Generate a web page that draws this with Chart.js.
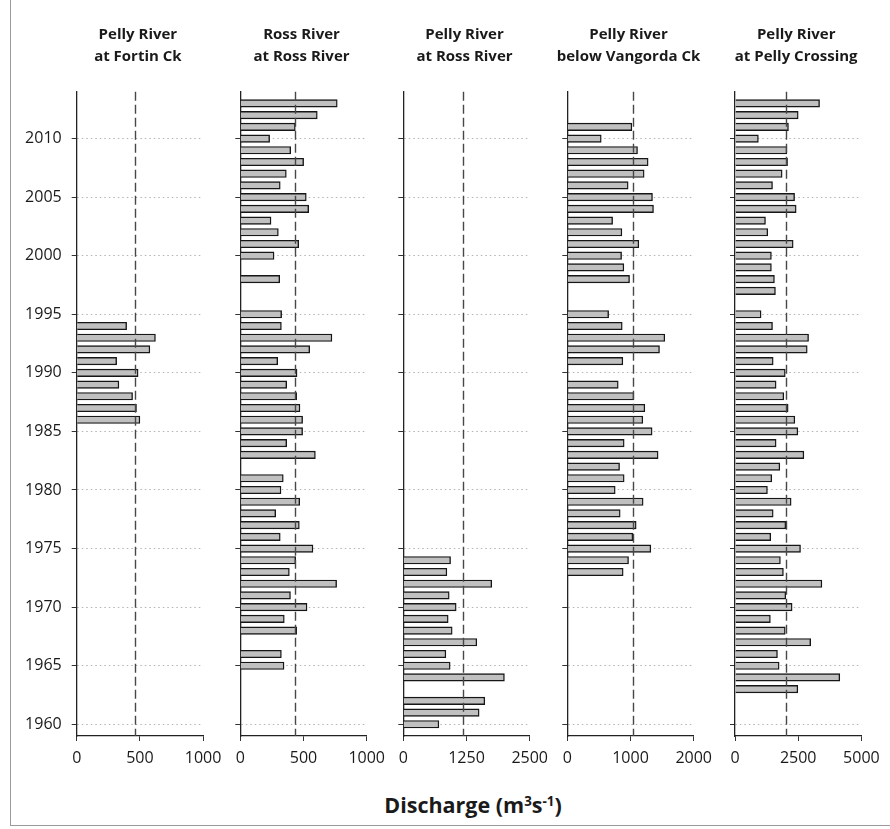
<!DOCTYPE html>
<html>
<head>
<meta charset="utf-8">
<script src="https://cdn.jsdelivr.net/npm/chart.js@4.4.1/dist/chart.umd.min.js"></script>
<style>
  html, body { margin: 0; padding: 0; background: #fff; }
  #fig { position: relative; width: 890px; height: 829px; overflow: hidden;
         font-family: "Open Sans", "Noto Sans", sans-serif; color: #1a1a1a; }
  #fig canvas { position: absolute; left: 0; top: 0; }
  .frame { position: absolute; left: 10px; top: -2px; width: 900px; height: 827px;
           border-left: 1px solid #9a9a9a; border-bottom: 1px solid #9a9a9a; }
  .ttl { position: absolute; top: 22px; width: 200px; text-align: center;
         font-weight: 700; font-size: 15px; line-height: 22px; white-space: nowrap; }
  #xtitle { position: absolute; left: 273px; width: 400px; top: 791px; text-align: center;
            font-weight: 700; font-size: 21.5px; line-height: 28px; }
  #xtitle sup { font-size: 62%; vertical-align: 0; position: relative; top: -0.55em; }
</style>
</head>
<body>
<div id="fig">
  <div class="frame"></div>
  <div id="xtitle">Discharge (m<sup>3</sup>s<sup>-1</sup>)</div>
</div>
<script>
// Water years shown on the vertical axis
const years = [
  1960, 1961, 1962, 1963, 1964, 1965, 1966, 1967, 1968, 1969,
  1970, 1971, 1972, 1973, 1974, 1975, 1976, 1977, 1978, 1979,
  1980, 1981, 1982, 1983, 1984, 1985, 1986, 1987, 1988, 1989,
  1990, 1991, 1992, 1993, 1994, 1995, 1996, 1997, 1998, 1999,
  2000, 2001, 2002, 2003, 2004, 2005, 2006, 2007, 2008, 2009,
  2010, 2011, 2012, 2013
];
const yearTicks = [1960, 1965, 1970, 1975, 1980, 1985, 1990, 1995, 2000, 2005, 2010];

// Annual discharge (m3/s) per station, 1960 -> 2013, null = no record
const pellyFortin = [
  null, null, null, null, null, null, null, null, null, null,
  null, null, null, null, null, null, null, null, null, null,
  null, null, null, null, null, null, 500, 473, 442, 334,
  486, 316, 579, 623, 395, null, null, null, null, null,
  null, null, null, null, null, null, null, null, null, null,
  null, null, null, null
];
const rossRoss = [
  null, null, null, null, null, 346, 325, null, 446, 348,
  528, 397, 762, 388, 438, 575, 316, 467, 280, 470,
  322, 340, null, 594, 367, 493, 493, 472, 446, 367,
  449, 296, 549, 725, 325, 327, null, null, 312, null,
  267, 462, 301, 243, 541, 522, 316, 364, 501, 399,
  232, 435, 609, 767
];
const pellyRoss = [
  704, 1500, 1612, null, 2000, 927, 842, 1454, 967, 888,
  1046, 908, 1750, 862, 935, null, null, null, null, null,
  null, null, null, null, null, null, null, null, null, null,
  null, null, null, null, null, null, null, null, null, null,
  null, null, null, null, null, null, null, null, null, null,
  null, null, null, null
];
const pellyVangorda = [
  null, null, null, null, null, null, null, null, null, null,
  null, null, null, 884, 969, 1322, 1037, 1090, 837, 1200,
  758, 900, 827, 1437, 900, 1342, 1195, 1227, 1053, 806,
  null, 879, 1459, 1543, 869, 654, null, null, 985, 895,
  859, 1132, 864, 717, 1364, 1348, 963, 1216, 1279, 1111,
  537, 1022, null, null
];
const pellyCrossing = [
  null, null, null, 2486, 4145, 1746, 1680, 2994, 1988, 1399,
  2260, 2009, 3438, 1915, 1796, 2592, 1415, 2009, 1511, 2221,
  1283, 1455, 1773, 2725, 1627, 2486, 2367, 2103, 1931, 1627,
  1988, 1511, 2857, 2910, 1484, 1032, null, 1600, 1560, 1440,
  1440, 2301, 1297, 1206, 2420, 2357, 1484, 1865, 2079, 2052,
  925, 2115, 2500, 3345
];

// Station names and x-axis tick labels
const stationNames = [
  ["Pelly River", "at Fortin Ck"],
  ["Ross River", "at Ross River"],
  ["Pelly River", "at Ross River"],
  ["Pelly River", "below Vangorda Ck"],
  ["Pelly River", "at Pelly Crossing"]
];
const xTicks = [
  [0, 500, 1000],
  [0, 500, 1000],
  [0, 1250, 2500],
  [0, 1000, 2000],
  [0, 2500, 5000]
];
const series = [pellyFortin, rossRoss, pellyRoss, pellyVangorda, pellyCrossing];

// Panel layout (pixels)
const W = 890, H = 829;
const panelLeft = [76.7, 240.3, 403.3, 567.3, 735];
const panelWidth = 126.4;
const plotTop = 91.7, plotBottom = 736;
const yAxisW = 60, xAxisH = 40;

const fig = document.getElementById('fig');
const font = { family: '"Open Sans", "Noto Sans", sans-serif', size: 16 };
const plain = v => String(v);

// Dashed vertical line at the period-of-record mean
function meanLine(mean) {
  return {
    id: 'meanLine',
    afterDatasetsDraw(chart) {
      const { ctx, chartArea, scales } = chart;
      const px = Math.round(scales.x.getPixelForValue(mean)) + 0.5;
      ctx.save();
      ctx.strokeStyle = '#474747';
      ctx.lineWidth = 1.4;
      ctx.setLineDash([9, 4]);
      ctx.beginPath();
      ctx.moveTo(px, chartArea.top);
      ctx.lineTo(px, chartArea.bottom);
      ctx.stroke();
      ctx.restore();
    }
  };
}

series.forEach((flow, i) => {
  const canvas = document.createElement('canvas');
  canvas.width = W; canvas.height = H;
  fig.appendChild(canvas);

  const points = [];
  years.forEach((yr, k) => { if (flow[k] !== null) points.push({ x: flow[k], y: yr }); });
  const recorded = flow.filter(v => v !== null);
  const mean = recorded.reduce((a, b) => a + b, 0) / recorded.length;
  const ticksX = xTicks[i];
  const left = panelLeft[i];

  new Chart(canvas, {
    type: 'bar',
    data: {
      datasets: [{
        data: points,
        backgroundColor: '#c0c0c0',
        borderColor: '#161616',
        borderWidth: 1.4,
        borderSkipped: 'start',
        barThickness: 7.5
      }]
    },
    options: {
      indexAxis: 'y',
      responsive: false,
      animation: false,
      devicePixelRatio: 1,
      layout: {
        padding: {
          left: left - yAxisW,
          right: W - (left + panelWidth),
          top: plotTop,
          bottom: H - plotBottom - xAxisH
        }
      },
      plugins: { legend: { display: false }, tooltip: { enabled: false } },
      scales: {
        x: {
          type: 'linear',
          min: ticksX[0],
          max: ticksX[ticksX.length - 1],
          afterBuildTicks: s => { s.ticks = ticksX.map(v => ({ value: v })); },
          afterFit: s => { s.height = xAxisH; },
          grid: { display: true, drawOnChartArea: false, drawTicks: true,
                  tickLength: 5, tickColor: '#333', tickWidth: 1 },
          border: { display: true, color: '#222', width: 1.3 },
          ticks: { font: font, color: '#1a1a1a', padding: 8, maxRotation: 0,
                   autoSkip: false, callback: plain }
        },
        y: {
          type: 'linear',
          offset: false,
          min: 1959,
          max: 2014,
          afterBuildTicks: s => { s.ticks = yearTicks.map(v => ({ value: v })); },
          afterFit: s => { s.width = yAxisW; },
          grid: { display: true, offset: false, drawOnChartArea: true, color: '#b3b3b3',
                  lineWidth: 1, tickBorderDash: [], tickColor: '#333',
                  tickWidth: 1, tickLength: 5 },
          border: { display: true, color: '#222', width: 1.3, dash: [1.5, 3] },
          ticks: { display: i === 0, font: font, color: '#1a1a1a', padding: 10,
                   autoSkip: false, callback: plain }
        }
      }
    },
    plugins: [meanLine(mean)]
  });

  const t = document.createElement('div');
  t.className = 'ttl';
  t.style.left = (left + panelWidth / 2 - 2 - 100) + 'px';
  t.innerHTML = stationNames[i][0] + '<br>' + stationNames[i][1];
  fig.appendChild(t);
});
</script>
</body>
</html>
